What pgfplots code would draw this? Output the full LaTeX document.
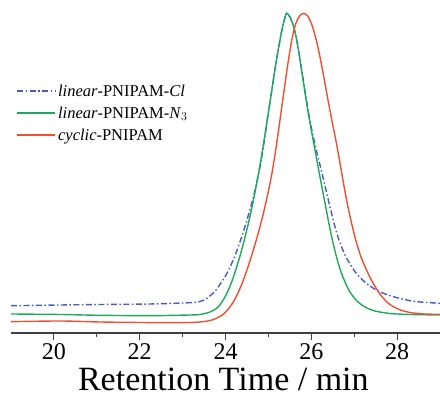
\documentclass[border=0pt]{standalone}
\usepackage{pgfplots}
\pgfplotsset{compat=1.18}
\usepackage{fontspec}
\setmainfont{Liberation Serif}
\definecolor{cblue}{RGB}{70,90,200}
\definecolor{cgreen}{RGB}{30,170,90}
\definecolor{cred}{RGB}{240,80,50}
\begin{document}
\begin{tikzpicture}
\useasboundingbox (0,0) rectangle (440pt,398pt);
\begin{axis}[
  at={(11pt,65pt)}, anchor=south west,
  scale only axis, width=429pt, height=333pt,
  xmin=19, xmax=29, ymin=0, ymax=333,
  axis x line=bottom, axis y line=none,
  axis line style={-, line width=1.3pt, color=black!75},
  xtick={20,22,24,26,28}, minor x tick num=1,
  tick align=outside, major tick length=7pt, minor tick length=4pt,
  every tick/.style={line width=1pt, color=black!75},
  ytick=\empty,
  /pgf/number format/assume math mode=true,
  xticklabel style={font=\fontsize{24}{26}\selectfont, anchor=base, inner sep=0pt, yshift=-20pt},
  xlabel={Retention Time / min},
  xlabel style={font=\fontsize{34}{36}\selectfont, inner sep=0pt, at={(axis description cs:0.495,0)}, anchor=base, yshift=-58pt},
  legend cell align=left,
  legend style={draw=none, fill=none, at={(0.011,0.752)}, anchor=north west, inner sep=0pt, row sep=5pt,
    font=\fontsize{16.5}{18}\selectfont},
  legend image code/.code={\draw[#1] (0pt,0pt) -- (38pt,0pt);},
]
\addlegendimage{cblue, line width=1.7pt, dash pattern=on 6pt off 2.5pt on 1.5pt off 2.5pt}
\addlegendentry{\textit{linear}-PNIPAM-\textit{Cl}}
\addlegendimage{draw=cgreen, line width=2.2pt}
\addlegendentry{\textit{linear}-PNIPAM-\textit{N}$_3$}
\addlegendimage{draw=cred, line width=2.2pt}
\addlegendentry{\textit{cyclic}-PNIPAM}
\addplot[forget plot, cblue, line width=1.4pt, dash pattern=on 6pt off 2.5pt on 1.5pt off 2.5pt, smooth] coordinates {
(19.000,27.3) (20.142,28) (21.075,28.5) (22.240,29) (23.172,30.3) (23.406,31.5) (23.545,34) (23.662,38)
(23.779,43) (23.895,50) (24.012,58) (24.128,68) (24.245,80) (24.361,94) (24.478,110) (24.594,127)
(24.711,147) (24.804,166) (24.897,190) (24.991,218) (25.084,244) (25.177,270) (25.270,293) (25.340,308)
(25.399,317) (25.427,319.7) (25.503,316) (25.597,305) (25.690,286) (25.783,261) (25.876,236) (25.970,212)
(26.063,193) (26.156,176) (26.249,160) (26.343,143) (26.436,126) (26.529,110) (26.622,96) (26.716,85)
(26.809,76) (26.902,69) (27.042,60) (27.182,53.5) (27.368,47) (27.555,42) (27.788,38) (28.068,34.5)
(28.417,31.5) (29.000,29.7)
};
\addplot[forget plot, cgreen, line width=1.4pt, smooth] coordinates {
(19.000,19) (20.142,18.5) (21.075,17.7) (22.240,17.3) (23.172,18) (23.406,18.5) (23.639,21) (23.802,25)
(23.918,31) (24.035,40) (24.152,52) (24.245,64) (24.338,77) (24.431,92) (24.524,108) (24.618,126)
(24.711,146) (24.804,168) (24.897,192) (24.991,218) (25.084,244) (25.177,270) (25.270,293) (25.340,308)
(25.399,317) (25.427,319.7) (25.503,316) (25.597,305) (25.690,286) (25.783,260) (25.876,234) (25.970,210)
(26.086,183) (26.203,156) (26.319,130) (26.436,104) (26.552,82) (26.669,64) (26.786,51) (26.902,41)
(27.065,32) (27.252,26) (27.485,22) (27.834,19.5) (28.301,18.5) (29.000,18)
};
\addplot[forget plot, cred, line width=1.4pt, smooth] coordinates {
(19.000,11.3) (20.142,12) (21.075,11) (22.007,10.5) (22.636,10.3) (23.172,10.5) (23.406,11) (23.522,11.5)
(23.685,13) (23.825,15.5) (23.942,18.5) (24.058,23.5) (24.175,30.5) (24.291,40) (24.408,52) (24.524,66)
(24.641,82) (24.758,99) (24.874,118) (24.991,140) (25.084,160) (25.177,185) (25.270,213) (25.364,242)
(25.457,270) (25.550,294) (25.643,310) (25.737,317.5) (25.830,319.7) (25.923,316.5) (26.016,308) (26.110,294)
(26.203,276) (26.296,255) (26.389,233) (26.483,212) (26.576,192) (26.669,170) (26.762,147) (26.855,126)
(26.949,108) (27.042,92) (27.159,76) (27.298,62) (27.438,50) (27.601,39) (27.788,30) (28.021,24)
(28.301,20.5) (28.650,19) (29.000,18.7)
};
\end{axis}
\end{tikzpicture}
\end{document}
